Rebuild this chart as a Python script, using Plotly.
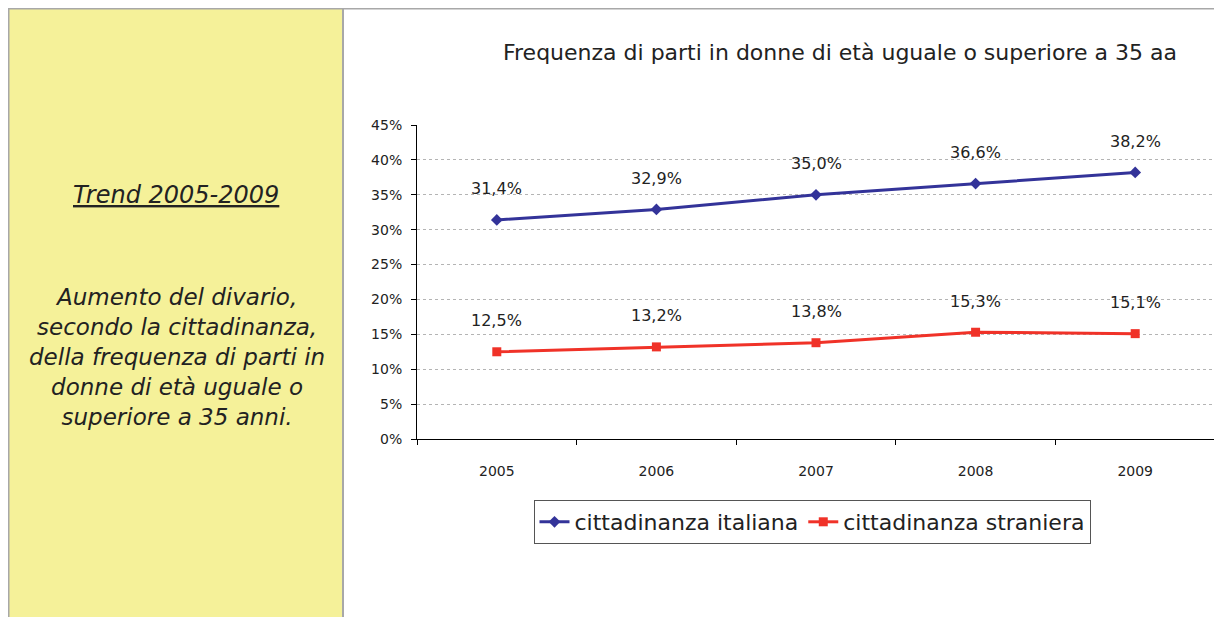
import plotly.graph_objects as go

years = ["2005", "2006", "2007", "2008", "2009"]
italiana = [31.4, 32.9, 35.0, 36.6, 38.2]
straniera = [12.5, 13.2, 13.8, 15.3, 15.1]
y_ticks = [0, 5, 10, 15, 20, 25, 30, 35, 40, 45]
y_ticklabels = [f"{v}%" for v in y_ticks]

W, H = 1222, 617
OFF = 8  # page body margin
def fx(x): return (x - OFF) / W
def fy(y): return 1 - (y - OFF) / H

fig = go.Figure()
fig.add_trace(go.Scatter(
    x=years, y=italiana, name="cittadinanza italiana", mode="lines+markers",
    line=dict(color="#333399", width=3),
    marker=dict(symbol="diamond", size=9, color="#333399"),
))
fig.add_trace(go.Scatter(
    x=years, y=straniera, name="cittadinanza straniera", mode="lines+markers",
    line=dict(color="#F03228", width=3),
    marker=dict(symbol="square", size=9, color="#F03228"),
))

ann = []
for ys in (italiana, straniera):
    for i, yv in enumerate(ys):
        ann.append(dict(x=i, y=yv, xref="x", yref="y", text=f"{yv:.1f}%".replace(".", ","),
                        showarrow=False, yshift=31, xanchor="center", yanchor="middle",
                        font=dict(family="DejaVu Sans", size=16, color="#222222")))

ann.append(dict(x=fx(840), y=fy(52), xref="paper", yref="paper", xanchor="center", yanchor="middle",
                text="Frequenza di parti in donne di età uguale o superiore a 35 aa",
                showarrow=False, font=dict(family="DejaVu Sans", size=22, color="#222222")))
ann.append(dict(x=fx(176), y=fy(195), xref="paper", yref="paper", xanchor="center", yanchor="middle",
                text="<i><u>Trend 2005-2009</u></i>",
                showarrow=False, font=dict(family="DejaVu Sans", size=24, color="#222222")))
ann.append(dict(x=fx(177), y=fy(357), xref="paper", yref="paper", xanchor="center", yanchor="middle",
                text="<i>Aumento del divario,<br>secondo la cittadinanza,<br>della frequenza di parti in<br>donne di età uguale o<br>superiore a 35 anni.</i>",
                showarrow=False, align="center",
                font=dict(family="DejaVu Sans", size=23, color="#222222")))

shapes = [
    dict(type="rect", xref="paper", yref="paper", x0=fx(8), x1=fx(343), y0=0, y1=fy(8),
         fillcolor="#F5F199", line=dict(width=0), layer="below"),
    dict(type="line", xref="paper", yref="paper", x0=fx(8), x1=1, y0=fy(8.5), y1=fy(8.5),
         line=dict(color="#A8A8A8", width=2)),
    dict(type="line", xref="paper", yref="paper", x0=fx(8.5), x1=fx(8.5), y0=0, y1=fy(8),
         line=dict(color="#A8A8A8", width=2)),
    dict(type="line", xref="paper", yref="paper", x0=fx(343), x1=fx(343), y0=0, y1=fy(8),
         line=dict(color="#A8A8A8", width=2)),
]

fig.update_layout(
    width=W, height=H, margin=dict(l=0, r=0, t=0, b=0, autoexpand=False),
    paper_bgcolor="white", plot_bgcolor="white",
    annotations=ann, shapes=shapes,
    showlegend=True,
    legend=dict(orientation="h", x=fx(812), xanchor="center", y=fy(522), yanchor="middle",
                bordercolor="#555555", borderwidth=1, bgcolor="white",
                font=dict(family="DejaVu Sans", size=22, color="#222222"),
                itemwidth=30, tracegroupgap=0),
    xaxis=dict(domain=[fx(417), fx(1215)], type="category", range=[-0.5, 4.5],
               showgrid=False,
               showline=True, linecolor="black", linewidth=1,
               ticks="outside", ticklen=5, tickcolor="black", tickson="boundaries",
               ticklabelstandoff=19, tickangle=0,
               tickfont=dict(family="DejaVu Sans", size=14, color="#222222")),
    yaxis=dict(domain=[fy(439), fy(125)], range=[0, 45],
               tickvals=y_ticks, ticktext=y_ticklabels,
               showgrid=True, gridcolor="#B4B4B4", griddash="dot", gridwidth=1,
               showline=True, linecolor="black", linewidth=1,
               ticks="outside", ticklen=5, tickcolor="black",
               ticklabelstandoff=6,
               zeroline=False,
               tickfont=dict(family="DejaVu Sans", size=14, color="#222222")),
)

fig.write_html("out.html")
